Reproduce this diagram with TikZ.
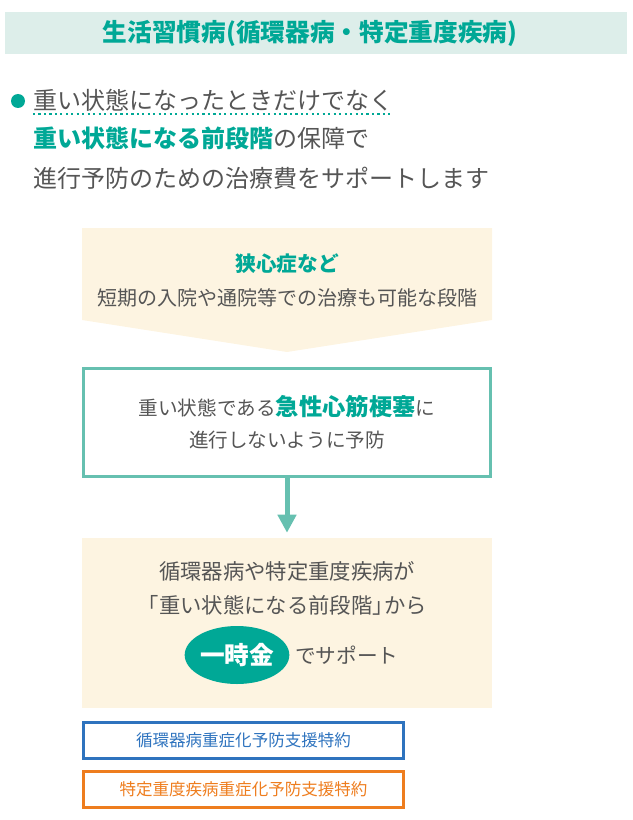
\documentclass[tikz,border=0pt]{standalone}
\usepackage{fontspec}
\setmainfont{Noto Sans CJK JP}
\usetikzlibrary{arrows.meta,positioning,shapes.geometric}
\definecolor{seagreen}{RGB}{0,168,150}
\definecolor{mintgray}{RGB}{221,238,234}
\definecolor{creamy}{RGB}{253,244,225}
\definecolor{framegreen}{RGB}{102,192,176}
\definecolor{inkgray}{RGB}{85,85,85}
\definecolor{riderblue}{RGB}{46,115,190}
\definecolor{riderorange}{RGB}{238,125,30}
\tikzset{
  cabecera/.style={
    inner sep=0pt,
    text=seagreen,
    font=\bfseries\fontsize{18.5}{22}\selectfont
  },
  punto/.style={
    circle,
    fill=seagreen,
    minimum size=10.5pt,
    inner sep=0pt
  },
  linea/.style={
    anchor=west,
    inner sep=0pt,
    text=inkgray,
    font=\fontsize{18}{22}\selectfont
  },
  punteado/.style={
    seagreen,
    line width=1.6pt,
    dash pattern=on 1.6pt off 2.5pt
  },
  texto/.style={
    inner sep=0pt,
    text=inkgray,
    align=center,
    font=\fontsize{15}{20}\selectfont
  },
  marco/.style={
    draw=framegreen,
    line width=2.25pt,
    fill=white,
    minimum width=305.25pt,
    minimum height=81pt,
    align=center,
    text=inkgray,
    font=\fontsize{14.7}{24}\selectfont
  },
  tarjeta/.style={
    fill=creamy,
    minimum width=307.5pt,
    minimum height=127.5pt
  },
  pago/.style={
    ellipse,
    fill=seagreen,
    text=white,
    minimum width=75pt,
    minimum height=43.5pt,
    inner sep=0pt,
    font=\bfseries\fontsize{18.5}{22}\selectfont
  },
  especial/.style={
    line width=2.25pt,
    minimum width=240pt,
    minimum height=27pt,
    inner sep=0pt,
    font=\fontsize{12.4}{15}\selectfont
  },
  arrow/.style={
    -{Triangle[length=13.5pt,width=13.5pt]},
    line width=3.75pt,
    framegreen,
    shorten >=3.75pt
  }
}
\begin{document}
\begin{tikzpicture}[x=0.75pt,y=-0.75pt]
\useasboundingbox (0,0) rectangle (632,820);
\fill[mintgray] (5,12) rectangle (627,54);
\node[cabecera] (head) at (310,33) {生活習慣病(循環器病・特定重度疾病)};
\node[punto] (dot) at (18,101) {};
\node[linea] (l1) at (33,100) {重い状態になったときだけでなく};
\node[linea] (l2) at (33,138) {{\bfseries\color{seagreen}重い状態になる前段階}の保障で};
\node[linea] (l3) at (33,178) {進行予防のための治療費をサポートします};
\draw[punteado] ([yshift=-2pt]l1.south west) -- ([yshift=-2pt]l1.south east);
\fill[creamy] (82,228) -- (492,228) -- (492,320) -- (287,352) -- (82,320) -- cycle;
\node[texto, text=seagreen, font=\bfseries\fontsize{15.5}{20}\selectfont] (angina) at (287,264) {狭心症など};
\node[texto] (early) at (287,298) {短期の入院や通院等での治療も可能な段階};
\node[marco] (prevent) at (287,422.5) {重い状態である{\bfseries\color{seagreen}\fontsize{17.5}{24}\selectfont 急性心筋梗塞}に\\進行しないように予防};
\node[tarjeta] (support) at (287,623) {};
\node[texto, font=\fontsize{16}{25}\selectfont] (cause) at (287,588.5) {循環器病や特定重度疾病が\\\kern-.45em「重い状態になる前段階」\kern-.45em から};
\node[pago] (lump) at (237,655) {一時金};
\node[texto, font=\fontsize{15.5}{20}\selectfont, right=4pt of lump] (cover) {でサポート};
\draw[arrow] (prevent) -- (support);
\node[especial, draw=riderblue, text=riderblue] (circ) at (243.5,740) {循環器病重症化予防支援特約};
\node[especial, draw=riderorange, text=riderorange, below=7.5pt of circ] (spec) {特定重度疾病重症化予防支援特約};
\end{tikzpicture}
\end{document}
